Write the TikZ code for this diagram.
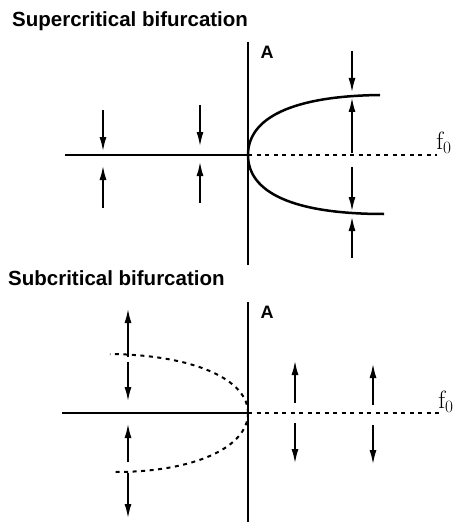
\documentclass[tikz,border=0pt]{standalone}
\usepackage{fontspec}
\setsansfont{Liberation Sans}
\usetikzlibrary{arrows.meta}

\begin{document}
\begin{tikzpicture}[x=1pt, y=-1pt,
    pfeil/.style={-{Latex[length=15pt,width=7pt]}, line width=2.2pt},
    achse/.style={line width=2pt},
    ast/.style={line width=2.5pt},
    gestrichelt/.style={line width=2pt, dash pattern=on 4pt off 4.5pt},
    titel/.style={font=\sffamily\bfseries\fontsize{20.5}{24}\selectfont, anchor=base west, inner sep=0pt},
    beschr/.style={font=\sffamily\bfseries\fontsize{18}{21}\selectfont, inner sep=0pt},
    fnull/.style={font=\fontsize{25}{28}\selectfont, inner sep=0pt}]
\useasboundingbox (0,0) rectangle (458,524);

    % oberes Bild: superkritisch
    \node[titel] (tsup) at (12,27) {Supercritical bifurcation};
    \coordinate (O1) at (248,155); % Ursprung
    \draw[achse] (248,42) -- (248,265); % A-Achse
    \draw[achse] (65,155) -- (O1); % stabiler Ast links
    \draw[gestrichelt] (O1) -- (437,155); % instabiler Ast rechts
    \node[beschr] (A1) at (267,52) {A};
    \node[fnull] (f1) at (444,143) {f$_0$};
    \draw[ast] (O1) .. controls (248,118) and (292,96) .. (380,95); % oberer Ast
    \draw[ast] (O1) .. controls (248,192) and (292,214) .. (384,214); % unterer Ast
    % Pfeile links
    \draw[pfeil] (103,110) -- (103,152);
    \draw[pfeil] (103,208) -- (103,165);
    \draw[pfeil] (200,105) -- (200,147);
    \draw[pfeil] (200,203) -- (200,161);
    % Pfeile rechts
    \draw[pfeil] (352,51) -- (352,93);
    \draw[pfeil] (352,153) -- (352,97);
    \draw[pfeil] (352,167) -- (352,212);
    \draw[pfeil] (352,258) -- (352,216);

    % unteres Bild: subkritisch
    \node[titel] (tsub) at (8,285) {Subcritical bifurcation};
    \coordinate (O2) at (248,413); % Ursprung
    \draw[achse] (248,302) -- (248,522); % A-Achse
    \draw[achse] (62,413) -- (O2); % stabiler Ast links
    \draw[gestrichelt] (O2) -- (440,413); % instabiler Ast rechts
    \node[beschr] (A2) at (267,312) {A};
    \node[fnull] (f2) at (446,402) {f$_0$};
    \draw[gestrichelt] (O2) .. controls (248,380) and (195,355) .. (110,354); % oberer Ast
    \draw[gestrichelt] (O2) .. controls (248,447) and (195,472) .. (115,472); % unterer Ast
    % Pfeile links
    \draw[pfeil] (128,357) -- (128,308);
    \draw[pfeil] (128,362) -- (128,402);
    \draw[pfeil] (128,462) -- (128,423);
    \draw[pfeil] (128,473) -- (128,519);
    % Pfeile rechts
    \draw[pfeil] (295,403) -- (295,360);
    \draw[pfeil] (295,423) -- (295,464);
    \draw[pfeil] (373,405) -- (373,363);
    \draw[pfeil] (373,425) -- (373,465);
\end{tikzpicture}
\end{document}
